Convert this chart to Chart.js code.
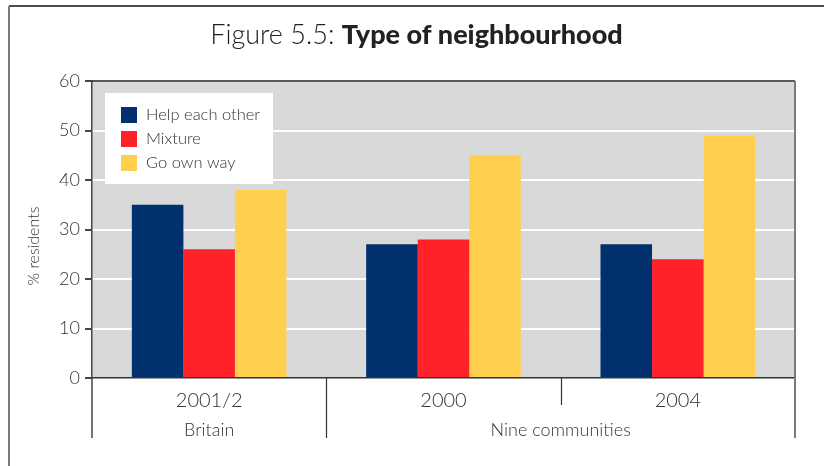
<!DOCTYPE html>
<html>
<head>
<meta charset="utf-8">
<script src="https://cdn.jsdelivr.net/npm/chart.js@4/dist/chart.umd.min.js"></script>
<style>
  html, body { margin: 0; padding: 0; background: #fff; }
  #wrap { position: relative; width: 824px; height: 466px; }
</style>
</head>
<body>
<div id="wrap"><canvas id="c" width="824" height="466"></canvas></div>
<script>
// Survey results: share of residents describing their neighbourhood
const years = ['2001/2', '2000', '2004'];
const groups = ['Britain', 'Nine communities'];
const groupSpans = [1, 2];
const seriesNames = ['Help each other', 'Mixture', 'Go own way'];
const helpEachOther = [35, 27, 27];
const mixture = [26, 28, 24];
const goOwnWay = [38, 45, 49];
const yTicks = [0, 10, 20, 30, 40, 50, 60];
const titleLead = 'Figure 5.5: ';
const titleMain = 'Type of neighbourhood';
const yTitle = '% residents';

const FONT = 'Lato, "Open Sans", sans-serif';
const INK = '#333333';
const colors = ['#00306e', '#ff2229', '#ffd050'];

const decorations = {
  id: 'decorations',
  beforeDraw(chart) {
    const { ctx, chartArea: a } = chart;
    ctx.save();
    ctx.fillStyle = '#ffffff';
    ctx.fillRect(0, 0, chart.width, chart.height);
    ctx.fillStyle = '#d9d9d9';
    ctx.fillRect(a.left, a.top, a.right - a.left, a.bottom - a.top);
    ctx.restore();
  },
  afterDraw(chart) {
    const { ctx, chartArea: a } = chart;
    const xs = chart.scales.x;
    ctx.save();

    // outer frame
    ctx.strokeStyle = '#111';
    ctx.lineWidth = 1.5;
    ctx.beginPath(); ctx.moveTo(9, 6); ctx.lineTo(chart.width, 6); ctx.stroke();
    ctx.strokeStyle = '#7a7a7a';
    ctx.lineWidth = 2;
    ctx.beginPath(); ctx.moveTo(9, 6); ctx.lineTo(9, chart.height); ctx.stroke();

    // title: light lead + bold main
    ctx.textBaseline = 'alphabetic';
    ctx.fillStyle = '#222';
    const leadFont = '300 27px ' + FONT;
    const mainFont = '900 27px ' + FONT;
    ctx.font = leadFont; const w1 = ctx.measureText(titleLead).width;
    ctx.font = mainFont; const w2 = ctx.measureText(titleMain).width;
    const tx = (9 + chart.width) / 2 - (w1 + w2) / 2;
    ctx.textAlign = 'left';
    ctx.font = leadFont; ctx.fillText(titleLead, tx, 44);
    ctx.font = mainFont; ctx.fillText(titleMain, tx + w1, 44);

    // plot frame: top and right edges
    ctx.strokeStyle = '#222';
    ctx.lineWidth = 1.5;
    ctx.beginPath(); ctx.moveTo(a.left, a.top); ctx.lineTo(a.right, a.top); ctx.stroke();
    ctx.strokeStyle = '#7a7a7a';
    ctx.lineWidth = 2;
    ctx.beginPath(); ctx.moveTo(a.right, a.top); ctx.lineTo(a.right, 438); ctx.stroke();

    // left axis extension under the plot
    ctx.strokeStyle = '#444';
    ctx.lineWidth = 1.5;
    ctx.beginPath(); ctx.moveTo(a.left, a.bottom); ctx.lineTo(a.left, 438); ctx.stroke();

    // category separators and group labels
    const cw = (a.right - a.left) / years.length;
    ctx.strokeStyle = '#333';
    ctx.lineWidth = 1.2;
    let start = 0;
    const groupEnds = new Set();
    groupSpans.forEach((n) => { start += n; groupEnds.add(start); });
    for (let i = 1; i < years.length; i++) {
      const bx = Math.round(xs.getPixelForValue(i) - cw / 2) + 0.5;
      const yEnd = groupEnds.has(i) ? 438 : 405;
      ctx.beginPath(); ctx.moveTo(bx, a.bottom); ctx.lineTo(bx, yEnd); ctx.stroke();
    }
    ctx.font = '300 18px ' + FONT;
    ctx.fillStyle = INK;
    ctx.textAlign = 'center';
    ctx.textBaseline = 'middle';
    start = 0;
    groups.forEach((g, gi) => {
      const n = groupSpans[gi];
      const x0 = xs.getPixelForValue(start) - cw / 2;
      const x1 = xs.getPixelForValue(start + n - 1) + cw / 2;
      ctx.fillText(g, (x0 + x1) / 2, 430);
      start += n;
    });

    // y axis title
    ctx.save();
    ctx.translate(34, 246);
    ctx.rotate(-Math.PI / 2);
    ctx.font = '300 16px ' + FONT;
    ctx.fillText(yTitle, 0, 0);
    ctx.restore();

    // legend box
    ctx.fillStyle = '#ffffff';
    ctx.fillRect(105, 93, 168, 91);
    ctx.font = '300 16.5px ' + FONT;
    ctx.textAlign = 'left';
    chart.data.datasets.forEach((ds, i) => {
      const y = 107 + i * 24;
      ctx.fillStyle = ds.backgroundColor;
      ctx.fillRect(121, y, 16, 16);
      ctx.fillStyle = INK;
      ctx.fillText(ds.label, 146, y + 8);
    });

    ctx.restore();
  }
};

new Chart(document.getElementById('c'), {
  type: 'bar',
  data: {
    labels: years,
    datasets: [
      { label: seriesNames[0], data: helpEachOther, backgroundColor: colors[0] },
      { label: seriesNames[1], data: mixture, backgroundColor: colors[1] },
      { label: seriesNames[2], data: goOwnWay, backgroundColor: colors[2] }
    ]
  },
  options: {
    responsive: false,
    animation: false,
    devicePixelRatio: 1,
    layout: { padding: { top: 81, right: 29, left: 0, bottom: 0 } },
    datasets: { bar: { categoryPercentage: 0.66, barPercentage: 1, borderWidth: 0 } },
    plugins: {
      legend: { display: false },
      title: { display: false },
      tooltip: { enabled: false }
    },
    scales: {
      x: {
        offset: true,
        grid: { display: false, drawTicks: false },
        border: { display: true, color: '#333', width: 1.5 },
        ticks: { color: INK, font: { family: FONT, size: 20, weight: '300' }, padding: 11 },
        afterFit(s) { s.height = 88; }
      },
      y: {
        min: 0,
        max: 60,
        afterBuildTicks(s) { s.ticks = yTicks.map(v => ({ value: v })); },
        grid: { color: '#ffffff', lineWidth: 2, drawTicks: true, tickLength: 7, tickColor: '#444' },
        border: { display: true, color: '#444', width: 1.5 },
        ticks: { color: INK, font: { family: FONT, size: 18, weight: '300' }, padding: 5 },
        afterFit(s) { s.width = 92; }
      }
    }
  },
  plugins: [decorations]
});
</script>
</body>
</html>
